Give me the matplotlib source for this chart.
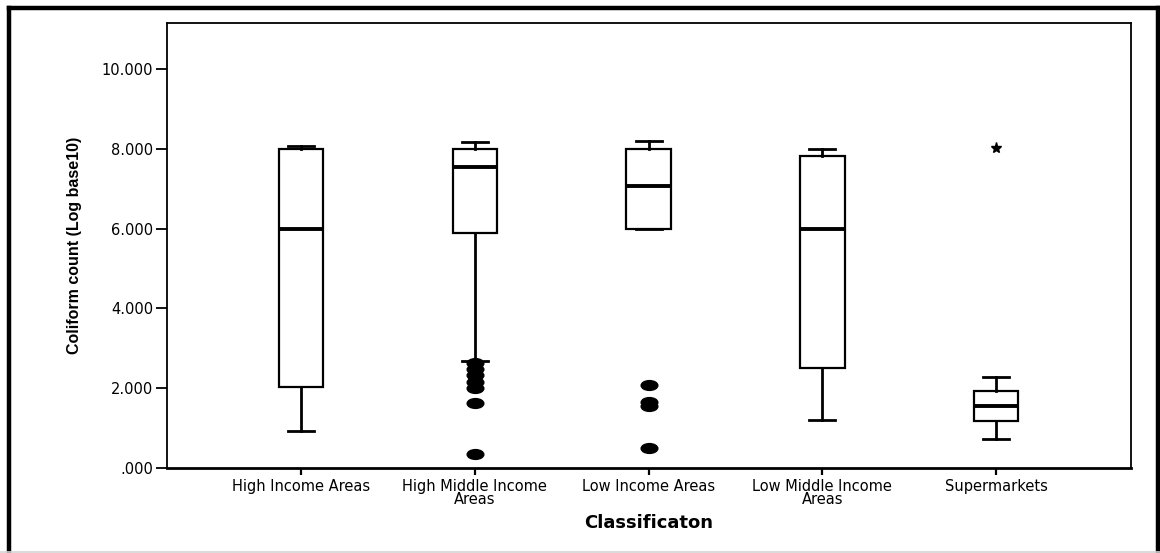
import matplotlib.pyplot as plt
import numpy as np
from matplotlib.path import Path
from matplotlib.transforms import Affine2D
from matplotlib.lines import Line2D

# coliform counts (log10) per area classification
categories = ["High Income Areas", "High Middle Income\nAreas", "Low Income Areas",
              "Low Middle Income\nAreas", "Supermarkets"]
q1 = [2.02, 5.88, 6.00, 2.50, 1.17]
medians = [6.00, 7.55, 7.08, 6.00, 1.55]
q3 = [8.00, 8.00, 8.00, 7.83, 1.92]
whisker_low = [0.92, 2.68, 6.00, 1.20, 0.72]
whisker_high = [8.08, 8.18, 8.20, 8.00, 2.27]
outliers = [[], [2.62, 2.48, 2.32, 2.15, 2.00, 1.63, 0.36], [2.08, 1.65, 1.55, 0.50], [], []]
extremes = [[], [], [], [], [8.02]]

stats = []
for i in range(len(categories)):
    stats.append(dict(med=medians[i], q1=q1[i], q3=q3[i],
                      whislo=whisker_low[i], whishi=whisker_high[i],
                      fliers=outliers[i]))

# SPSS style dots are a bit wider than tall
ellipse = Path.unit_circle().transformed(Affine2D().scale(1.7, 1.0))

fig = plt.figure(figsize=(11.6, 5.53), dpi=100)
ax = fig.add_axes([0.144, 0.1537, 0.831, 0.8043])

pos = np.arange(1, len(categories) + 1)
ax.bxp(stats, positions=pos, widths=0.255, patch_artist=True,
       boxprops=dict(facecolor="white", edgecolor="black", linewidth=1.6),
       medianprops=dict(color="black", linewidth=2.8),
       whiskerprops=dict(color="black", linewidth=2.0),
       capprops=dict(color="black", linewidth=2.0),
       capwidths=0.15,
       flierprops=dict(marker=ellipse, markersize=12, markerfacecolor="black",
                       markeredgecolor="black", linestyle="none"))

for p, vals in zip(pos, extremes):
    if vals:
        ax.plot([p] * len(vals), vals, linestyle="none", marker="*",
                markersize=8, color="black")

ax.set_xlim(0.23, 5.775)
ax.set_ylim(0, 11.15)
ax.set_yticks([0, 2, 4, 6, 8, 10])
ax.set_yticklabels([".000", "2.000", "4.000", "6.000", "8.000", "10.000"])
ax.set_xticks(pos)
ax.set_xticklabels(categories, linespacing=0.8)

ax.tick_params(axis="y", length=8, width=1.3, pad=2, labelsize=10.5)
ax.tick_params(axis="x", length=5, width=1.6, pad=3, labelsize=10.5)
for s in ax.spines.values():
    s.set_linewidth(1.3)
ax.spines["bottom"].set_linewidth(2.0)

ax.set_ylabel("Coliform count (Log base10)", family="Liberation Sans",
              fontweight="bold", fontsize=11.5)
ax.yaxis.set_label_coords(-0.088, 0.5)
ax.set_xlabel("Classificaton", fontweight="bold", fontsize=13, labelpad=5)

# outer frame around the whole graphic
fig.add_artist(Line2D([9 / 1160, 9 / 1160], [0, 1 - 8 / 553], transform=fig.transFigure,
                      color="black", linewidth=3.2, solid_capstyle="projecting"))
fig.add_artist(Line2D([9 / 1160, 1158 / 1160], [1 - 8 / 553, 1 - 8 / 553],
                      transform=fig.transFigure, color="black", linewidth=3.2,
                      solid_capstyle="projecting"))
fig.add_artist(Line2D([1158 / 1160, 1158 / 1160], [0, 1 - 8 / 553],
                      transform=fig.transFigure, color="black", linewidth=3.2,
                      solid_capstyle="projecting"))
fig.add_artist(Line2D([0, 1], [1.5 / 553, 1.5 / 553], transform=fig.transFigure,
                      color="#d4d4d4", linewidth=1.2))

fig.savefig("out.png", dpi=100)
